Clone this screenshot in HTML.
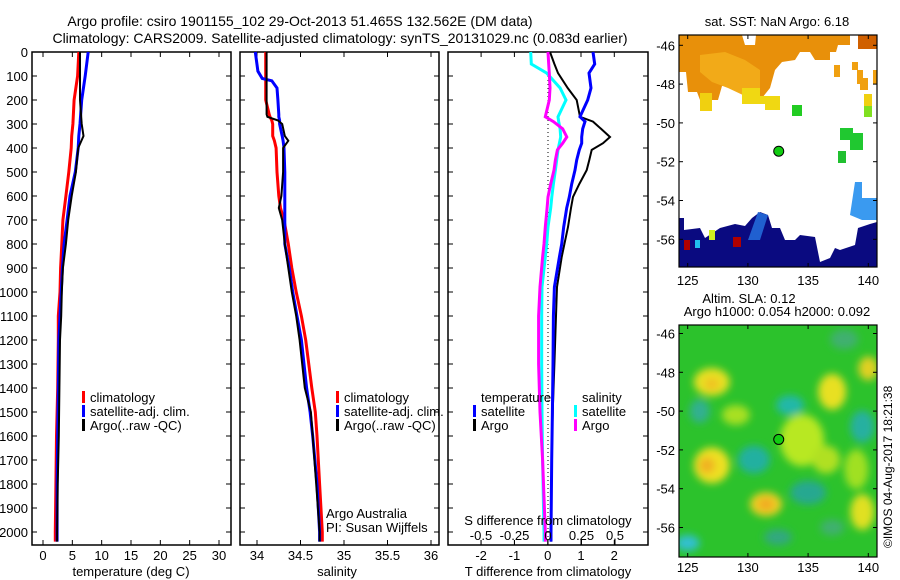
<!DOCTYPE html>
<html><head><meta charset="utf-8"><style>
html,body{margin:0;padding:0;background:#fff}
svg{display:block}
text{font-family:"Liberation Sans",sans-serif;font-size:13px;fill:#000}
</style></head><body>
<svg id="chart" width="900" height="580" viewBox="0 0 900 580" xmlns="http://www.w3.org/2000/svg">
<defs>
<filter id="blur" x="-50%" y="-50%" width="200%" height="200%"><feGaussianBlur stdDeviation="4"/></filter>
<clipPath id="clipSla"><rect x="679" y="325" width="198" height="232"/></clipPath>
<clipPath id="clipSst"><rect x="679" y="35" width="198" height="232"/></clipPath>
</defs>
<text x="300" y="26" text-anchor="middle" style="font-size:14px">Argo profile: csiro 1901155_102 29-Oct-2013 51.465S 132.562E (DM data)</text>
<text x="340" y="43" text-anchor="middle" style="font-size:14px">Climatology: CARS2009. Satellite-adjusted climatology: synTS_20131029.nc (0.083d earlier)</text>
<g id="panels"></g>
<g id="maps"></g>
<text transform="translate(892,548) rotate(-90)" style="font-size:12px">©IMOS 04-Aug-2017 18:21:38</text>
</svg>
<script>
// ---------- data ----------
const tDepth   = [0,100,200,300,350,400,500,600,700,800,900,1000,1100,1200,1400,1600,1800,2000,2040];
const tArgo    = [6.3,6.3,6.3,6.6,6.9,6.0,5.6,4.9,4.3,3.9,3.4,3.2,3.1,2.9,2.8,2.7,2.5,2.4,2.4];
const tSat     = [7.7,7.2,6.6,6.3,6.1,6.0,5.5,4.6,4.1,3.6,3.3,3.1,2.9,2.7,2.6,2.5,2.4,2.4,2.4];
const tClim    = [6.1,5.9,5.3,5.1,4.9,4.8,4.4,3.9,3.4,3.2,3.0,2.9,2.6,2.6,2.5,2.3,2.2,2.1,2.1];

const sDepth = [0,80,110,120,150,200,260,270,285,300,350,370,400,500,600,650,700,800,900,1000,1100,1200,1400,1500,1600,1800,2000,2040];
const sArgo  = [34.11,34.11,34.11,34.11,34.11,34.11,34.11,34.12,34.24,34.29,34.32,34.36,34.30,34.30,34.28,34.25,34.29,34.32,34.36,34.40,34.45,34.49,34.55,34.62,34.64,34.68,34.72,34.72];
const sSat   = [33.98,34.01,34.06,34.17,34.23,34.24,34.25,34.25,34.26,34.26,34.29,34.30,34.31,34.32,34.32,34.32,34.32,34.32,34.37,34.41,34.46,34.51,34.57,34.61,34.64,34.69,34.72,34.72];
const sClim  = [34.10,34.10,34.10,34.10,34.10,34.10,34.14,34.15,34.17,34.18,34.18,34.20,34.22,34.23,34.25,34.27,34.31,34.36,34.40,34.45,34.51,34.56,34.63,34.67,34.69,34.72,34.75,34.75];

const dDepth  = [0,50,88,150,200,270,290,320,354,380,408,450,492,550,604,650,729,800,854,979,1100,1300,1500,1700,2000,2040];
const dTArgo  = [0.07,0.2,0.31,0.6,0.87,0.97,1.36,1.6,1.87,1.66,1.32,1.25,1.17,0.95,0.76,0.7,0.61,0.5,0.42,0.28,0.25,0.2,0.15,0.12,0.1,0.1];
const dTSat   = [1.36,1.41,1.24,1.3,1.2,0.97,1.12,1.05,1.02,1.02,0.95,0.87,0.82,0.72,0.65,0.57,0.48,0.42,0.35,0.2,0.17,0.16,0.14,0.12,0.1,0.1];
const dSSat   = [-0.129,-0.125,-0.01,0.09,0.134,0.075,0.08,0.09,0.095,0.085,0.075,0.065,0.055,0.04,0.028,0.02,0.0,-0.01,-0.02,-0.045,-0.047,-0.047,-0.045,-0.04,-0.03,-0.03];
const dSArgo  = [0.0,0.005,0.01,0.015,0.01,-0.02,0.04,0.11,0.14,0.11,0.07,0.055,0.045,0.02,0.0,-0.007,-0.02,-0.03,-0.04,-0.06,-0.07,-0.07,-0.06,-0.04,-0.02,-0.02];

const depthTicks = [0,100,200,300,400,500,600,700,800,900,1000,1100,1200,1300,1400,1500,1600,1700,1800,1900,2000];
const tTicks = [0,5,10,15,20,25,30];
const sTicks = [34,34.5,35,35.5,36];
const tdTicks = [-2,-1,0,1,2];
const sdTicks = [-0.5,-0.25,0,0.25,0.5];
const sdTickLabels = ["-0.5","-0.25","0","0.25","0.5"];
const latTicks = [-46,-48,-50,-52,-54,-56];
const lonTicks = [125,130,135,140];
const argoLon = 132.56, argoLat = -51.46;

// ---------- helpers ----------
const NS="http://www.w3.org/2000/svg";
function el(tag,attrs,parent,txt){const e=document.createElementNS(NS,tag);for(const k in attrs)e.setAttribute(k,attrs[k]);if(txt!==undefined)e.textContent=txt;parent.appendChild(e);return e;}
const panels=document.getElementById('panels');
const maps=document.getElementById('maps');
const top0=52, bot=545;
const yD=d=>top0+d*0.24;

function lin(d0,d1,r0,r1){return v=>r0+(v-d0)*(r1-r0)/(d1-d0);}
const xT=lin(0,30,43,219);
const xS=lin(34,36,257,431);
const xTd=lin(0,2,547.7,614.3);
const xSd=lin(0,0.5,548,615);

function frame(x0,x1,name,xs,ticks,labelY,labels){
  const g=el('g',{},panels);
  
  
  const r=el('rect',{x:x0,y:top0,width:x1-x0,height:bot-top0,fill:'none',stroke:'#000','stroke-width':1.5},g);
  
  
  depthTicks.forEach(d=>{
    el('line',{x1:x0,x2:x0+5,y1:yD(d),y2:yD(d),stroke:'#000'},g);
    el('line',{x1:x1-5,x2:x1,y1:yD(d),y2:yD(d),stroke:'#000'},g);
  });
  if(xs){ticks.forEach((t,i)=>{
    el('line',{x1:xs(t),x2:xs(t),y1:top0,y2:top0+5,stroke:'#000'},g);
    el('line',{x1:xs(t),x2:xs(t),y1:bot-5,y2:bot,stroke:'#000'},g);
    if(labelY){const tx=el('text',{x:xs(t),y:labelY,'text-anchor':'middle'},g,labels?labels[i]:String(t));
      
      }
  });}
  return g;
}
function series(g,xs,depths,vals,color,w,name){
  const pts=depths.map((d,i)=>xs(vals[i]).toFixed(1)+','+yD(d).toFixed(1)).join(' ');
  const p=el('polyline',{points:pts,fill:'none',stroke:color,'stroke-width':w,'stroke-linejoin':'miter'},g);
  
  
}
function legend(g,x,y,color,label,name){
  el('rect',{x:x,y:y-11,width:3,height:12,fill:color},g);
  const t=el('text',{x:x+8,y:y},g,label);
  
  
}

// depth labels
depthTicks.forEach(d=>{
  const t=el('text',{x:28,y:yD(d)+5,'text-anchor':'end'},panels,String(d));
  
  
});

// panel 1
const g1=frame(32,231,'temperature-panel',xT,tTicks,560);
series(g1,xT,tDepth,tClim,'#f00',3,'temp-climatology-line');
series(g1,xT,tDepth,tSat,'#00f',3,'temp-satellite-line');
series(g1,xT,tDepth,tArgo,'#000',2,'temp-argo-line');
legend(g1,82,402,'#f00','climatology','legend-climatology');
legend(g1,82,416,'#00f','satellite-adj. clim.','legend-satellite');
legend(g1,82,430,'#000','Argo(..raw -QC)','legend-argo');
let at=el('text',{x:131,y:576,'text-anchor':'middle'},panels,'temperature (deg C)');



// panel 2
const g2=frame(240,439,'salinity-panel',xS,sTicks,560);
series(g2,xS,sDepth,sClim,'#f00',3,'sal-climatology-line');
series(g2,xS,sDepth,sSat,'#00f',3,'sal-satellite-line');
series(g2,xS,sDepth,sArgo,'#000',2,'sal-argo-line');
legend(g2,336,402,'#f00','climatology','legend-climatology');
legend(g2,336,416,'#00f','satellite-adj. clim.','legend-satellite');
legend(g2,336,430,'#000','Argo(..raw -QC)','legend-argo');
at=el('text',{x:337,y:576,'text-anchor':'middle'},panels,'salinity');


at=el('text',{x:326,y:518},g2,'Argo Australia');


at=el('text',{x:326,y:532},g2,'PI: Susan Wijffels');



// panel 3
const g3=frame(448,648,'difference-panel',xTd,tdTicks,560);
sdTicks.forEach(t=>{el('line',{x1:xSd(t),x2:xSd(t),y1:bot-5,y2:bot,stroke:'#000'},g3);});
el('line',{x1:548,x2:548,y1:top0,y2:bot,stroke:'#000','stroke-dasharray':'1,3'},g3);
series(g3,xTd,dDepth,dTArgo,'#000',2,'tdiff-argo-line');
series(g3,xTd,dDepth,dTSat,'#00f',3,'tdiff-satellite-line');
series(g3,xSd,dDepth,dSSat,'#0ff',3,'sdiff-satellite-line');
series(g3,xSd,dDepth,dSArgo,'#f0f',3,'sdiff-argo-line');
sdTicks.forEach((t,i)=>{const tx=el('text',{x:xSd(t),y:540,'text-anchor':'middle'},g3,sdTickLabels[i]);
  
  });
at=el('text',{x:548,y:525,'text-anchor':'middle'},g3,'S difference from climatology');


at=el('text',{x:548,y:576,'text-anchor':'middle'},panels,'T difference from climatology');


at=el('text',{x:481,y:402},g3,'temperature');


at=el('text',{x:582,y:402},g3,'salinity');


legend(g3,473,416,'#00f','satellite','legend-t-satellite');
legend(g3,473,430,'#000','Argo','legend-t-argo');
legend(g3,574,416,'#0ff','satellite','legend-s-satellite');
legend(g3,574,430,'#f0f','Argo','legend-s-argo');

// ---------- maps ----------
const mx=lin(125,140,687.7,868.3);
function mapAxes(latTop,name){
  const g=el('g',{},maps);
  
  
  const my=v=>latTop+(-46-v)*19.4;
  return {g,my};
}
function mapFrame(g,y0,my,labY){
  el('rect',{x:679,y:y0,width:198,height:232,fill:'none',stroke:'#000','stroke-width':1.2},g);
  latTicks.forEach(l=>{
    el('line',{x1:679,x2:683,y1:my(l),y2:my(l),stroke:'#000'},g);
    el('line',{x1:873,x2:877,y1:my(l),y2:my(l),stroke:'#000'},g);
    const t=el('text',{x:675,y:my(l)+5,'text-anchor':'end'},g,String(l));
    
    
  });
  lonTicks.forEach(l=>{
    el('line',{x1:mx(l),x2:mx(l),y1:y0,y2:y0+4,stroke:'#000'},g);
    el('line',{x1:mx(l),x2:mx(l),y1:y0+228,y2:y0+232,stroke:'#000'},g);
    const t=el('text',{x:mx(l),y:labY,'text-anchor':'middle'},g,String(l));
    
    
  });
  const c=el('circle',{cx:mx(argoLon),cy:my(argoLat),r:5,fill:'#1c1',stroke:'#000','stroke-width':1},g);
  
  
}
// SST map
{
  const {g,my}=mapAxes(45.3,'sst-map');
  const sg=el('g',{'clip-path':'url(#clipSst)'},g);
  el('polygon',{points:'679,35 742,35 745,45 755,45 756,35 850,35 850,45 838,45 836,52 830,52 830,60 815,60 810,52 800,52 795,60 782,62 775,70 770,88 762,98 752,104 742,92 735,90 730,86 722,86 718,100 700,100 697,92 688,92 686,72 679,72',fill:'#e8900a'},sg);
  el('polygon',{points:'700,55 725,52 745,60 760,70 760,90 745,96 728,88 712,82 700,72',fill:'#f2aa18'},sg);
  el('rect',{x:700,y:93,width:12,height:18,fill:'#f0d010'},sg);
  el('polygon',{points:'742,88 760,88 760,96 780,96 780,110 765,110 765,104 742,104',fill:'#f0d812'},sg);
  el('rect',{x:858,y:35,width:19,height:14,fill:'#d06000'},sg);
  [[834,65,6,12],[852,62,6,8],[857,70,6,14],[860,78,8,12],[873,70,4,14]].forEach(r=>el('rect',{x:r[0],y:r[1],width:r[2],height:r[3],fill:'#f0a010'},sg));
  el('rect',{x:864,y:94,width:8,height:12,fill:'#f0d010'},sg);
  el('rect',{x:864,y:106,width:8,height:11,fill:'#80e020'},sg);
  el('rect',{x:792,y:105,width:10,height:11,fill:'#22cc22'},sg);
  el('polygon',{points:'840,128 853,128 853,133 863,133 863,150 850,150 850,140 840,140',fill:'#20c830'},sg);
  el('rect',{x:838,y:151,width:8,height:12,fill:'#20c030'},sg);
  el('polygon',{points:'855,182 862,182 862,198 877,198 877,220 862,220 850,215',fill:'#3a9af0'},sg);
  el('polygon',{points:'679,252 679,218 684,218 684,230 700,228 705,238 720,228 735,224 745,226 752,218 760,212 768,215 772,228 780,228 785,240 795,240 800,235 815,237 820,262 830,258 835,248 840,250 855,245 858,228 870,224 877,222 877,267 679,267',fill:'#0a0a80'},sg);
  el('polygon',{points:'748,240 758,212 768,215 760,240',fill:'#2060d0'},sg);
  el('rect',{x:684,y:240,width:6,height:10,fill:'#b00000'},sg);
  el('rect',{x:733,y:237,width:8,height:10,fill:'#b00000'},sg);
  el('rect',{x:709,y:230,width:6,height:10,fill:'#d0f020'},sg);
  el('rect',{x:695,y:240,width:5,height:8,fill:'#20c0f0'},sg);
  mapFrame(g,35,my,285);
  let t=el('text',{x:777,y:26,'text-anchor':'middle'},g,'sat. SST: NaN Argo: 6.18');
  
  
}
// SLA map
{
  const {g,my}=mapAxes(333.5,'sla-map');
  const sg=el('g',{'clip-path':'url(#clipSla)'},g);
  el('rect',{x:679,y:325,width:198,height:232,fill:'#2cc22c'},sg);
  const fg=el('g',{filter:'url(#blur)'},sg);
  const blobs=[
    [134.5,-51.5,22,26,'#b8e820'],[129,-50.2,14,10,'#a8e020'],[136.5,-52.5,14,14,'#b0e020'],[139,-53,12,20,'#a0e020'],
    [127,-48.5,18,14,'#e8e020'],[137,-49,14,18,'#e8e020'],[127,-52.8,18,18,'#eee020'],[131.5,-54.8,16,12,'#f0d020'],
    [139.5,-55.2,12,18,'#e0e020'],[126.6,-52.8,8,8,'#f0b020'],[131.5,-54.8,8,6,'#f0a820'],[127,-48.6,7,6,'#f0c020'],
    [133.5,-49.7,14,10,'#20b8a8'],[130.5,-52.5,16,14,'#20b0a0'],[135,-54.2,18,12,'#28a890'],[126,-50,10,12,'#30b090'],
    [139.5,-50.8,12,16,'#28b0a0'],[125,-56.8,12,8,'#30c0d0'],[132.5,-56.5,14,8,'#30a880'],[138,-46.3,14,10,'#40b070'],
    [140,-47.8,10,12,'#e0d020'],[137,-56,12,8,'#40b070']];
  blobs.forEach(b=>el('ellipse',{cx:mx(b[0]),cy:my(b[1]),rx:b[2],ry:b[3],fill:b[4]},fg));
  mapFrame(g,325,my,572);
  let t=el('text',{x:749,y:303,'text-anchor':'middle'},g,'Altim. SLA: 0.12');
  
  
  t=el('text',{x:777,y:316,'text-anchor':'middle'},g,'Argo h1000: 0.054 h2000: 0.092');
  
  
}
</script>
</body></html>
